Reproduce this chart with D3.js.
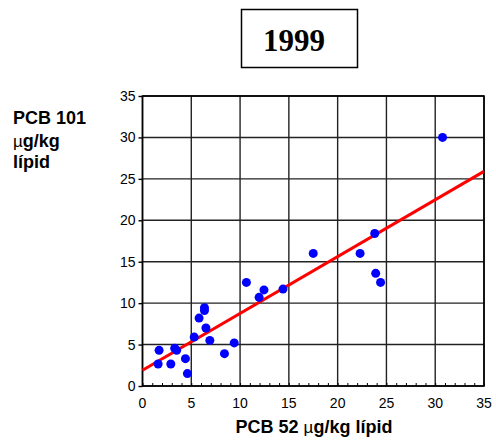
<!DOCTYPE html>
<html>
<head>
<meta charset="utf-8">
<script src="https://cdn.jsdelivr.net/npm/d3@7"></script>
<style>
  body { margin: 0; background: #fff; }
</style>
</head>
<body>
<div id="chart"></div>
<script>
// PCB 52 vs PCB 101 (µg/kg lipid), 1999
const pcb52 = [1.6, 1.7, 2.9, 3.3, 3.5, 4.4, 4.6, 5.3, 5.8, 6.35, 6.35, 6.5, 6.9, 8.4, 9.4,
  10.65, 11.95, 12.45, 14.4, 17.5, 22.3, 23.8, 23.9, 24.4, 30.75];
const pcb101 = [2.65, 4.3, 2.65, 4.55, 4.3, 3.3, 1.5, 5.9, 8.2, 9.45, 9.1, 7.0, 5.5, 3.9, 5.2,
  12.5, 10.7, 11.6, 11.7, 16.0, 16.0, 18.4, 13.6, 12.5, 30.0];
// regression line end points
const fitX = [0, 35];
const fitY = [1.9, 25.9];
const xTicks = [0, 5, 10, 15, 20, 25, 30, 35];
const yTicks = [0, 5, 10, 15, 20, 25, 30, 35];
const title = "1999";

const width = 496, height = 444;
const margin = { top: 96, right: 12, bottom: 58, left: 142.5 };

const svg = d3.select("#chart")
  .append("svg")
  .attr("width", width)
  .attr("height", height);

const x = d3.scaleLinear().domain([0, 35]).range([margin.left, width - margin.right]);
const y = d3.scaleLinear().domain([0, 35]).range([height - margin.bottom, margin.top]);

// grid
svg.append("g")
  .selectAll("line.vg")
  .data(xTicks)
  .join("line")
  .attr("x1", d => x(d)).attr("x2", d => x(d))
  .attr("y1", y(0)).attr("y2", y(35))
  .attr("stroke", "#222").attr("stroke-width", 1.4);

svg.append("g")
  .selectAll("line.hg")
  .data(yTicks)
  .join("line")
  .attr("x1", x(0)).attr("x2", x(35))
  .attr("y1", d => y(d)).attr("y2", d => y(d))
  .attr("stroke", "#222").attr("stroke-width", 1.4);

// x axis with minor ticks pointing inward
const xAxis = svg.append("g")
  .attr("transform", `translate(0,${y(0)})`)
  .call(d3.axisBottom(x).tickValues(d3.range(0, 36, 1)).tickSize(-3).tickFormat(""));
xAxis.select(".domain").remove();
xAxis.selectAll("line").attr("stroke", "#000");

svg.append("g")
  .selectAll("text")
  .data(xTicks)
  .join("text")
  .attr("x", d => x(d))
  .attr("y", y(0) + 22)
  .attr("text-anchor", "middle")
  .style("font-family", "Arial, Helvetica, sans-serif")
  .style("font-size", "14px")
  .text(d => d);

// y axis
const yAxis = svg.append("g")
  .attr("transform", `translate(${x(0)},0)`)
  .call(d3.axisLeft(y).tickValues(yTicks).tickSize(4).tickPadding(3));
yAxis.select(".domain").remove();
yAxis.selectAll("line").attr("stroke", "#000").attr("stroke-width", 1.4);
yAxis.selectAll("text")
  .style("font-family", "Arial, Helvetica, sans-serif")
  .style("font-size", "14px")
  .attr("fill", "#000");

// frame
svg.append("rect")
  .attr("x", x(0)).attr("y", y(35))
  .attr("width", x(35) - x(0)).attr("height", y(0) - y(35))
  .attr("fill", "none").attr("stroke", "#000").attr("stroke-width", 1.6);

// regression line
svg.append("line")
  .attr("x1", x(fitX[0])).attr("y1", y(fitY[0]))
  .attr("x2", x(fitX[1])).attr("y2", y(fitY[1]))
  .attr("stroke", "#ff0000").attr("stroke-width", 3);

// points
svg.append("g")
  .selectAll("circle")
  .data(pcb52)
  .join("circle")
  .attr("cx", d => x(d))
  .attr("cy", (d, i) => y(pcb101[i]))
  .attr("r", 4.5)
  .attr("fill", "#0000ff");

// title box
svg.append("rect")
  .attr("x", 241.5).attr("y", 9.5)
  .attr("width", 116).attr("height", 58)
  .attr("fill", "none").attr("stroke", "#000").attr("stroke-width", 1.5);
svg.append("text")
  .attr("x", 294).attr("y", 51)
  .attr("text-anchor", "middle")
  .style("font-family", "'Liberation Serif', 'Times New Roman', serif")
  .style("font-weight", "bold")
  .style("font-size", "31px")
  .text(title);

// y label
const yLab = svg.append("text")
  .style("font-family", "Arial, Helvetica, sans-serif")
  .style("font-weight", "bold")
  .style("font-size", "18px");
yLab.append("tspan").attr("x", 13).attr("y", 124).text("PCB 101");
const l2 = yLab.append("tspan").attr("x", 13).attr("y", 147);
l2.append("tspan").style("font-weight", "normal").style("font-size", "17px").text("µ");
l2.append("tspan").text("g/kg");
yLab.append("tspan").attr("x", 13).attr("y", 168).text("lípid");

// x label
const xLab = svg.append("text")
  .attr("x", 314).attr("y", 433)
  .attr("text-anchor", "middle")
  .style("font-family", "Arial, Helvetica, sans-serif")
  .style("font-weight", "bold")
  .style("font-size", "18px");
xLab.append("tspan").text("PCB 52 ");
xLab.append("tspan").style("font-weight", "normal").style("font-size", "17px").text("µ");
xLab.append("tspan").text("g/kg lípid");
</script>
</body>
</html>
